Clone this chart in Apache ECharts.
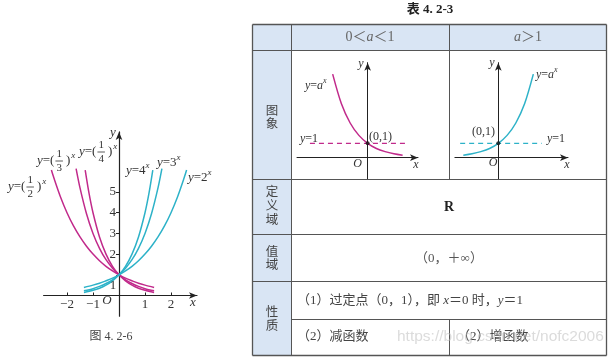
<!DOCTYPE html>
<html><head><meta charset="utf-8">
<script src="https://cdn.jsdelivr.net/npm/echarts@6/dist/echarts.min.js"></script>
<style>html,body{margin:0;padding:0;background:#fff}#c{width:616px;height:361px}</style>
</head><body><div id="c"></div>
<script>
// ---------- data ----------
// y = 2^x
const xPow2 = [-1.35,-1,-0.75,-0.5,-0.25,0,0.25,0.5,0.75,1,1.25,1.5,1.75,2,2.25,2.5,2.6];
const yPow2 = [0.39,0.5,0.59,0.71,0.84,1,1.19,1.41,1.68,2,2.38,2.83,3.36,4,4.76,5.66,6.06];
// y = 3^x
const xPow3 = [-1.35,-1,-0.75,-0.5,-0.25,0,0.25,0.5,0.75,1,1.25,1.5,1.65];
const yPow3 = [0.23,0.33,0.44,0.58,0.76,1,1.32,1.73,2.28,3,3.95,5.2,6.13];
// y = 4^x
const xPow4 = [-1.35,-1,-0.75,-0.5,-0.25,0,0.25,0.5,0.75,1,1.15,1.3];
const yPow4 = [0.15,0.25,0.35,0.5,0.71,1,1.41,2,2.83,4,4.92,6.06];
// y = (1/2)^x
const xHalf = [-2.6,-2.5,-2.25,-2,-1.75,-1.5,-1.25,-1,-0.75,-0.5,-0.25,0,0.25,0.5,0.75,1,1.35];
const yHalf = [6.06,5.66,4.76,4,3.36,2.83,2.38,2,1.68,1.41,1.19,1,0.84,0.71,0.59,0.5,0.39];
// y = (1/3)^x
const xThird = [-1.65,-1.5,-1.25,-1,-0.75,-0.5,-0.25,0,0.25,0.5,0.75,1,1.35];
const yThird = [6.13,5.2,3.95,3,2.28,1.73,1.32,1,0.76,0.58,0.44,0.33,0.23];
// y = (1/4)^x
const xQuarter = [-1.3,-1.15,-1,-0.75,-0.5,-0.25,0,0.25,0.5,0.75,1,1.35];
const yQuarter = [6.06,4.92,4,2.83,2,1.41,1,0.71,0.5,0.35,0.25,0.15];
// small table graphs: 0<a<1 and a>1
const xMini = [-1,-0.75,-0.5,-0.25,0,0.25,0.5,0.75,1];
const yMiniDec = [5.8,3.74,2.41,1.55,1,0.64,0.42,0.27,0.17];
const yMiniInc = [0.17,0.27,0.42,0.64,1,1.55,2.41,3.74,5.8];
const dashDecX = [-1.65,1.07];
const dashIncX = [-1.09,1.24];
const dashY = [1,1];
const fixedPoint = [0,1];
// tick labels
const xTickVals = [-2,-1,1,2];
const yTickVals = [1,2,3,4,5];
const yLabelVals = [2,3,4,5];

// ---------- helpers ----------
const SERIF = "'Liberation Serif','DejaVu Serif','Noto Sans CJK SC',serif";
const CJK = "'Liberation Serif','Noto Sans CJK SC',sans-serif";
const MAG = '#c12a8b', CYAN = '#2db2c8', INK = '#333';
const pairs = (xs, ys) => xs.map((x, i) => [x, ys[i]]);
const ctx = document.createElement('canvas').getContext('2d');
function fnt(p){ return (p.it?'italic ':'')+(p.b?'bold ':'')+p.size+'px '+p.fam; }
function txt(x,y,t,p,align){
  return {type:'text', x:x, y:y, z:10, silent:true,
    style:{text:t, font:fnt(p), fill:p.fill, align:align, textAlign:align, verticalAlign:'middle', textVerticalAlign:'middle'}};
}
function comp(x, y, parts, opt){
  opt = opt || {};
  const base = {size: opt.size || 13, fam: opt.fam || SERIF, fill: opt.fill || INK};
  const items = parts.map(q => {
    let p = (typeof q === 'string') ? {t:q} : q;
    p = Object.assign({}, base, p);
    if (p.sup){ p.size = Math.round(base.size*0.7); p.dy = -base.size*0.4; }
    if (p.gap != null) p.w = p.gap;
    else if (p.frac){ p.size = opt.fracSize || 11; ctx.font = fnt(p);
      p.w = Math.max(ctx.measureText(p.frac[0]).width, ctx.measureText(p.frac[1]).width) + 2; }
    else { ctx.font = fnt(p); p.w = ctx.measureText(p.t).width; }
    return p;
  });
  const total = items.reduce((s,p)=>s+p.w,0);
  let cx = opt.align === 'center' ? x - total/2 : x;
  const out = [];
  items.forEach(p => {
    if (p.gap != null) {}
    else if (p.frac){
      const mid = cx + p.w/2;
      out.push(txt(mid, y - p.size*0.6, p.frac[0], p, 'center'));
      out.push(txt(mid, y + p.size*0.62, p.frac[1], p, 'center'));
      out.push({type:'line', z:10, silent:true, shape:{x1:cx, y1:y, x2:cx+p.w, y2:y}, style:{stroke:p.fill, lineWidth:0.8}});
    } else out.push(txt(cx, y + (p.dy||0), p.t, p, 'left'));
    cx += p.w;
  });
  return out;
}
const Y = {t:'y', it:true}, X = {t:'x', it:true}, XS = {t:'x', it:true, sup:true}, A = {t:'a', it:true};
function fracLabel(x0, yc, den){
  return comp(x0, yc, [Y, '=(', {gap:1}, {frac:['1', den]}, {gap:3}, ')', {gap:1}, XS]);
}

// ---------- table ----------
const L = 252.5, C1 = 291.5, M = 449.5, R = 606.5;
const rows = [24.5, 50.5, 179.5, 234.5, 281.5, 319.5, 355.5];
const FILL = '#d9e5f4', LINE = '#555';
const g = [];
g.push({type:'rect', z:-5, silent:true, shape:{x:L, y:rows[0], width:R-L, height:rows[1]-rows[0]}, style:{fill:FILL}});
g.push({type:'rect', z:-5, silent:true, shape:{x:L, y:rows[1], width:C1-L, height:rows[6]-rows[1]}, style:{fill:FILL}});
function ln(x1,y1,x2,y2,w){ g.push({type:'line', z:5, silent:true, shape:{x1,y1,x2,y2}, style:{stroke:LINE, lineWidth:w||1}}); }
[0,1,2,3,4,6].forEach(i => ln(L, rows[i], R, rows[i], (i===0||i===6)?1.3:1));
ln(C1, rows[5], R, rows[5]);
ln(L, rows[0], L, rows[6], 1.3); ln(R, rows[0], R, rows[6], 1.3);
ln(C1, rows[0], C1, rows[6]);
ln(M, rows[0], M, rows[2]); ln(M, rows[5], M, rows[6]);

// title & captions
g.push(...comp(430, 10, [{t:'表 4. 2-3', b:true}], {align:'center', size:13, fam:CJK, fill:'#222'}));
g.push(...comp(111, 337, ['图 4. 2-6'], {align:'center', size:12, fam:CJK, fill:'#444'}));
// header
g.push(...comp(370, 37, ['0', {t:'＜', fam:CJK}, A, {t:'＜', fam:CJK}, '1'], {align:'center', size:14, fill:'#666'}));
g.push(...comp(528, 37, [A, {t:'＞', fam:CJK}, '1'], {align:'center', size:14, fill:'#666'}));
// row heads (vertical)
function vert(cx, ys, chars){ chars.forEach((c,i)=> g.push(...comp(cx, ys[i], [c], {align:'center', size:12.5, fam:CJK, fill:'#444'}))); }
vert(272, [112, 124.5], ['图','象']);
vert(272, [193, 207, 221], ['定','义','域']);
vert(272, [252.5, 266], ['值','域']);
vert(272, [312.5, 326.5], ['性','质']);
// cells
g.push(...comp(449, 207, [{t:'R', b:true}], {align:'center', size:14, fill:'#222'}));
g.push(...comp(449, 259, ['（0，＋∞）'], {align:'center', size:13, fam:CJK, fill:'#555'}));
g.push(...comp(297, 301, ['（1）过定点（0，1），即 ', X, '＝0 时，', Y, '＝1'], {size:13, fam:CJK, fill:'#444'}));
g.push(...comp(297, 337, ['（2）减函数'], {size:13, fam:CJK, fill:'#444'}));
g.push(...comp(457, 337, ['（2）增函数'], {size:13, fam:CJK, fill:'#444'}));
// watermark
g.push(...comp(397, 337, ['https://blog.csdn.net/nofc2006'], {size:15.5, fam:"'Liberation Sans',Arial,sans-serif", fill:'rgba(190,190,190,0.55)'}));

// mini graph labels
g.push(...comp(305, 86, [Y, '=', A, XS], {size:12}));
g.push(...comp(300, 139, [Y, '=1'], {size:12}));
g.push(...comp(369, 137, ['(0,1)'], {size:12}));
g.push(...comp(357.5, 164, [{t:'O', it:true}], {size:12, align:'center'}));
g.push(...comp(416, 165, [X], {size:12, align:'center'}));
g.push(...comp(361, 64, [Y], {size:12, align:'center'}));
g.push(...comp(536, 75, [Y, '=', A, XS], {size:12}));
g.push(...comp(472, 132, ['(0,1)'], {size:12}));
g.push(...comp(547, 139, [Y, '=1'], {size:12}));
g.push(...comp(493, 163, [{t:'O', it:true}], {size:12, align:'center'}));
g.push(...comp(567, 165, [X], {size:12, align:'center'}));
g.push(...comp(492, 63, [Y], {size:12, align:'center'}));

// main graph labels
g.push(...fracLabel(8, 187, '2'));
g.push(...fracLabel(37, 161, '3'));
g.push(...fracLabel(79, 152, '4'));
g.push(...comp(126, 171, [Y, '=4', XS]));
g.push(...comp(157, 163, [Y, '=3', XS]));
g.push(...comp(188, 178, [Y, '=2', XS]));
g.push(...comp(107, 301, [{t:'O', it:true}], {align:'center'}));
g.push(...comp(193, 303, [X], {align:'center'}));
g.push(...comp(113, 133, [Y], {align:'center'}));
g.push(...comp(113, 286, ['1'], {align:'center'}));

// ---------- chart ----------
const arrowLine = (w, onZero) => ({show:true, onZero:onZero, symbol:['none','arrow'], symbolSize:[5,8], lineStyle:{color:'#222', width:w}});
const miniX = (min,max) => ({type:'value', min, max, axisLine:arrowLine(1, true), axisTick:{show:false}, axisLabel:{show:false}, splitLine:{show:false}});
const miniY = () => ({type:'value', min:-1.5, max:6.6, axisLine:arrowLine(1, true), axisTick:{show:false}, axisLabel:{show:false}, splitLine:{show:false}});
const lineSeries = (data, color, xi, extra) => Object.assign({type:'line', xAxisIndex:xi, yAxisIndex:xi, data, smooth:0.3, showSymbol:false, symbol:'none', silent:true,
  lineStyle:{color, width:1.5}, z:3}, extra||{});

// main grid: origin at (119, 295.5), 26 px per x unit, 20.7 px per y unit
const option = {
  animation:false,
  backgroundColor:'#fff',
  grid:[
    {left:43.6, right:419, top:131.97, bottom:44.8},
    {left:297, right:198, top:62.66, bottom:181.7},
    {left:454.9, right:48, top:62.66, bottom:181.7}
  ],
  xAxis:[
    {type:'value', gridIndex:0, min:-2.9, max:3.0, position:'bottom', offset:-20.7,
      axisLine:arrowLine(1.2, false),
      axisTick:{show:true, inside:true, length:3, customValues:xTickVals, lineStyle:{color:'#222'}},
      axisLabel:{show:true, customValues:xTickVals, margin:3, fontFamily:SERIF, fontSize:13, color:INK,
        formatter:v => v < 0 ? '−' + (-v) : String(v)},
      splitLine:{show:false}},
    Object.assign(miniX(-2.02, 1.44), {gridIndex:1}),
    Object.assign(miniX(-1.24, 1.99), {gridIndex:2})
  ],
  yAxis:[
    {type:'value', gridIndex:0, min:-1, max:7.9, position:'left', offset:-75.4,
      axisLine:arrowLine(1.2, false),
      axisTick:{show:true, length:3, customValues:yTickVals, lineStyle:{color:'#222'}},
      axisLabel:{show:true, customValues:yLabelVals, margin:3, fontFamily:SERIF, fontSize:13, color:INK},
      splitLine:{show:false}},
    Object.assign(miniY(), {gridIndex:1}),
    Object.assign(miniY(), {gridIndex:2})
  ],
  series:[
    lineSeries(pairs(xHalf, yHalf), MAG, 0),
    lineSeries(pairs(xThird, yThird), MAG, 0),
    lineSeries(pairs(xQuarter, yQuarter), MAG, 0),
    lineSeries(pairs(xPow2, yPow2), CYAN, 0),
    lineSeries(pairs(xPow3, yPow3), CYAN, 0),
    lineSeries(pairs(xPow4, yPow4), CYAN, 0),
    lineSeries(pairs(xMini, yMiniDec), MAG, 1),
    lineSeries(pairs(dashDecX, dashY), MAG, 1, {smooth:false, lineStyle:{color:MAG, width:1.2, type:[5,4]}}),
    {type:'scatter', xAxisIndex:1, yAxisIndex:1, data:[fixedPoint], symbolSize:4, itemStyle:{color:'#111'}, silent:true, z:4},
    lineSeries(pairs(xMini, yMiniInc), CYAN, 2),
    lineSeries(pairs(dashIncX, dashY), CYAN, 2, {smooth:false, lineStyle:{color:CYAN, width:1.2, type:[5,4]}}),
    {type:'scatter', xAxisIndex:2, yAxisIndex:2, data:[fixedPoint], symbolSize:4, itemStyle:{color:'#111'}, silent:true, z:4}
  ],
  graphic:{elements:g}
};
const chart = echarts.init(document.getElementById('c'), null, {renderer:'canvas'});
chart.setOption(option);
</script></body></html>
